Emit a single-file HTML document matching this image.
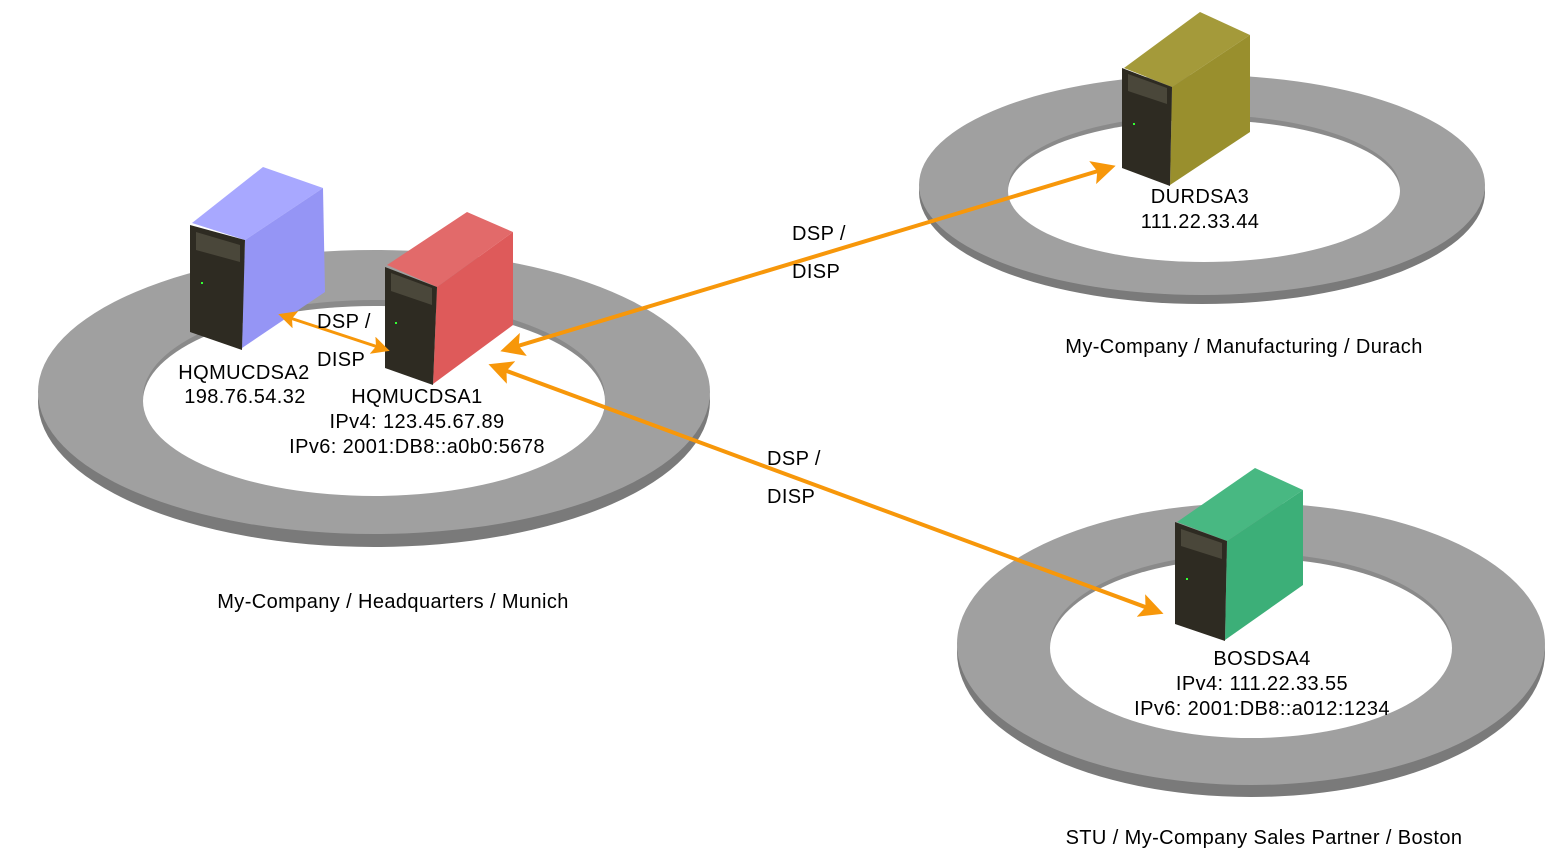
<!DOCTYPE html>
<html><head><meta charset="utf-8"><style>
html,body{margin:0;padding:0;background:#fff;}
svg{display:block;}
text{font-family:"Liberation Sans",sans-serif;font-size:20px;letter-spacing:0.4px;fill:#000;}
</style></head><body>
<svg width="1559" height="859" viewBox="0 0 1559 859" xmlns="http://www.w3.org/2000/svg">
<defs>
<marker id="ah" markerWidth="6" markerHeight="6" refX="4" refY="3" orient="auto-start-reverse" markerUnits="strokeWidth">
<path d="M0,0 L6,3 L0,6 L1.2,3 z" fill="#f7970a"/></marker>
</defs>
<!-- Munich ring -->
<ellipse cx="374" cy="401" rx="336" ry="146" fill="#7a7a7a"/>
<ellipse cx="374" cy="392" rx="336" ry="142" fill="#a0a0a0"/>
<ellipse cx="374" cy="397" rx="231" ry="97" fill="#8a8a8a"/>
<ellipse cx="374" cy="401" rx="231" ry="95" fill="#fff"/>
<!-- Durach ring -->
<ellipse cx="1202" cy="192" rx="283" ry="112" fill="#7a7a7a"/>
<ellipse cx="1202" cy="185" rx="283" ry="110" fill="#a0a0a0"/>
<ellipse cx="1204" cy="188" rx="196" ry="73" fill="#8a8a8a"/>
<ellipse cx="1204" cy="191" rx="196" ry="71" fill="#fff"/>
<!-- Boston ring -->
<ellipse cx="1251" cy="652" rx="294" ry="145" fill="#7a7a7a"/>
<ellipse cx="1251" cy="644" rx="294" ry="141" fill="#a0a0a0"/>
<ellipse cx="1251" cy="645" rx="201" ry="92" fill="#8a8a8a"/>
<ellipse cx="1251" cy="648" rx="201" ry="90" fill="#fff"/>

<!-- Server: blue -->
<g>
<polygon points="192,223 263,167 323,188 245,240" fill="#a8a8ff"/>
<polygon points="245,240 323,188 325,292 242,348" fill="#9595f5"/>
<polygon points="190,225 245,240 242,350 190,332" fill="#2e2b22"/>
<polygon points="196,232 240,245 240,262 196,250" fill="#4a473a"/>
<rect x="201" y="282" width="2" height="2" fill="#3f3"/>
</g>
<!-- Server: red -->
<g>
<polygon points="387,265 467,212 513,232 437,287" fill="#e26a6a"/>
<polygon points="437,287 513,232 513,325 433,384" fill="#de5a5a"/>
<polygon points="385,267 437,287 433,385 385,368" fill="#2e2b22"/>
<polygon points="391,273 432,288 432,305 391,291" fill="#4a473a"/>
<rect x="395" y="322" width="2" height="2" fill="#3f3"/>
</g>
<!-- Server: olive -->
<g>
<polygon points="1124,68 1200,12 1250,35 1172,87" fill="#a49a3a"/>
<polygon points="1172,87 1250,35 1250,132 1170,185" fill="#998f2d"/>
<polygon points="1122,68 1172,87 1170,186 1122,168" fill="#2e2b22"/>
<polygon points="1128,74 1167,88 1167,104 1128,91" fill="#4a473a"/>
<rect x="1133" y="123" width="2" height="2" fill="#3f3"/>
</g>
<!-- Server: green -->
<g>
<polygon points="1177,522 1255,468 1303,490 1227,541" fill="#48b882"/>
<polygon points="1227,541 1303,490 1303,585 1225,640" fill="#3caf78"/>
<polygon points="1175,522 1227,541 1225,641 1175,624" fill="#2e2b22"/>
<polygon points="1181,529 1222,543 1222,559 1181,546" fill="#4a473a"/>
<rect x="1186" y="578" width="2" height="2" fill="#3f3"/>
</g>

<!-- Arrows -->
<g stroke="#f7970a" stroke-width="4" fill="none">
<line x1="284" y1="316" x2="384" y2="349" marker-start="url(#ah)" marker-end="url(#ah)" stroke-width="3"/>
<line x1="508" y1="349" x2="1108" y2="168" marker-start="url(#ah)" marker-end="url(#ah)"/>
<line x1="496" y1="367" x2="1156" y2="611" marker-start="url(#ah)" marker-end="url(#ah)"/>
</g>

<!-- Labels -->
<text x="317" y="328">DSP /</text>
<text x="317" y="366">DISP</text>
<text x="792" y="240">DSP /</text>
<text x="792" y="278">DISP</text>
<text x="767" y="465">DSP /</text>
<text x="767" y="503">DISP</text>

<g text-anchor="middle">
<text x="244" y="379">HQMUCDSA2</text>
<text x="245" y="403">198.76.54.32</text>
<text x="417" y="403">HQMUCDSA1</text>
<text x="417" y="428">IPv4: 123.45.67.89</text>
<text x="417" y="453">IPv6: 2001:DB8::a0b0:5678</text>
<text x="1200" y="203">DURDSA3</text>
<text x="1200" y="228">111.22.33.44</text>
<text x="1262" y="665">BOSDSA4</text>
<text x="1262" y="690">IPv4: 111.22.33.55</text>
<text x="1262" y="715">IPv6: 2001:DB8::a012:1234</text>
<text x="393" y="608">My-Company /  Headquarters / Munich</text>
<text x="1244" y="353">My-Company / Manufacturing / Durach</text>
<text x="1264" y="844">STU / My-Company Sales Partner / Boston</text>
</g>
</svg>
</body></html>
